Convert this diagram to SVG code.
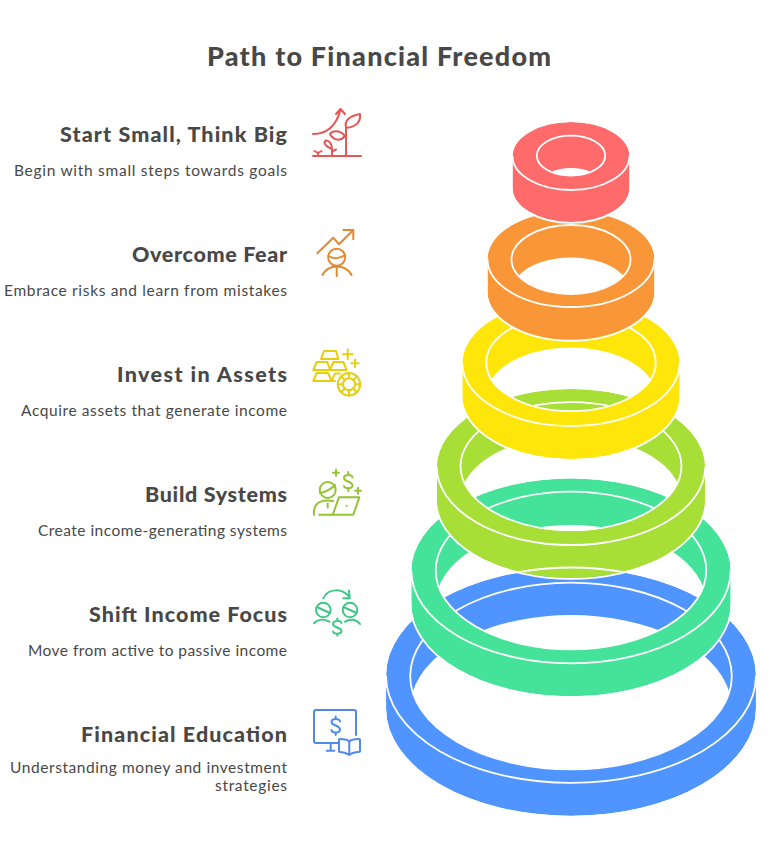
<svg xmlns="http://www.w3.org/2000/svg" width="782" height="867" viewBox="0 0 782 867">
<style>
text{font-family:"Lato","Open Sans",sans-serif;fill:#484848}
.title{font-size:27px;font-weight:900}
.head{font-size:21.500px;font-weight:900}
.desc{font-size:15.500px}
.ring{fill-rule:evenodd}
.edge{fill:none;stroke:#fff;stroke-width:1.800}
.ic{fill:none;stroke-width:2;stroke-linecap:round;stroke-linejoin:round}
</style>
<rect width="782" height="867" fill="#fff"/>
<text class="title" x="207" y="66" textLength="344" lengthAdjust="spacing">Path to Financial Freedom</text>

<g id="financial-education">
<path class="ring" fill="#4F94FF" d="M386 675.500A185 107.400 0 0 1 756 675.500V708.500A185 107.400 0 0 1 386 708.500ZM412.700 692A160.800 93.300 0 0 1 729.300 692A160.800 93.300 0 0 1 412.700 692Z"/>
<path class="edge" d="M385.200 675.500A185.800 108.200 0 0 1 756.800 675.500V708.500A185.800 108.200 0 0 1 385.200 708.500Z"/>
<ellipse class="edge" cx="571" cy="676" rx="160.800" ry="93.300"/>
<path class="edge" d="M386 675.500A185 107.400 0 0 0 756 675.500"/>
<g class="ic" stroke="#4F8AE8">
<path d="M356 735V712a2 2 0 0 0-2-2H316a2 2 0 0 0-2 2V741a2 2 0 0 0 2 2H338M330.700 743.300V750.500M326.700 750.700H334.300"/>
<path d="M340 721.500C340 718 331.500 718 331.500 722C331.500 726 340 725 340 729.500C340 733.500 331.500 733.500 331.500 730M335.700 716.500V718.500M335.700 733V735"/>
<path d="M349.300 755C345 752 342 752 340 752Q339 752 339 751V740Q339 739 340 739C344 739 347 739 349.300 741.500C351.500 739 355 739 359 739Q360 739 360 740V751Q360 752 359 752C356 752 353 752 349.300 755ZM349.300 741.500V755"/>
</g>
<text class="head" x="81" y="742" textLength="206" lengthAdjust="spacing">Financial Education</text>
<text class="desc" x="10" y="773" textLength="277" lengthAdjust="spacing">Understanding money and investment</text>
<text class="desc" x="215" y="791" textLength="72" lengthAdjust="spacing">strategies</text>
</g>

<g id="shift-income-focus">
<path class="ring" fill="#45E39A" d="M411.300 570.800A159.700 92.500 0 0 1 730.700 570.800V603.800A159.700 92.500 0 0 1 411.300 603.800ZM438.700 587.300A135.300 78.800 0 0 1 703.300 587.300A135.300 78.800 0 0 1 438.700 587.300Z"/>
<path class="edge" d="M410.500 570.800A160.500 93.300 0 0 1 731.500 570.800V603.800A160.500 93.300 0 0 1 410.500 603.800Z"/>
<ellipse class="edge" cx="571" cy="570.500" rx="135.300" ry="78.800"/>
<path class="edge" d="M411.300 570.800A159.700 92.500 0 0 0 730.700 570.800"/>
<g class="ic" stroke="#3DC985">
<path d="M323.300 598.300C328 588 342 588 349 596.700M349 590.700L349.700 598.300L343.300 598.300"/>
<circle cx="323.300" cy="610" r="7.300"/><circle cx="350" cy="610" r="7.300"/>
<path d="M316.800 607L329.800 613M343.500 607L356.500 613M314 623.300C318 619 324 618.500 329.300 621.700M345 621.700C350 618.500 356 619 360 624"/>
<path d="M341.500 623C341.500 620 333 620 333 624C333 628 341.500 627 341.500 631C341.500 634.500 333 634.500 333 631.500M337.300 618.500V620.500M337.300 634V635.500"/>
</g>
<text class="head" x="89" y="622" textLength="198" lengthAdjust="spacing">Shift Income Focus</text>
<text class="desc" x="28" y="656" textLength="259" lengthAdjust="spacing">Move from active to passive income</text>
</g>

<g id="build-systems">
<path class="ring" fill="#A8DF36" d="M436.800 467A134.200 78 0 0 1 705.200 467V500A134.200 78 0 0 1 436.800 500ZM464.200 483.500A110.500 64 0 0 1 677.800 483.500A110.500 64 0 0 1 464.200 483.500Z"/>
<path class="edge" d="M436 467A135 78.800 0 0 1 706 467V500A135 78.800 0 0 1 436 500Z"/>
<ellipse class="edge" cx="571" cy="466.200" rx="110.500" ry="64"/>
<path class="edge" d="M436.800 467A134.200 78 0 0 0 705.200 467"/>
<g class="ic" stroke="#94C434">
<circle cx="327.700" cy="490" r="8"/>
<path d="M320 493C326 492 332 488 335 485M314 515C313 505 318 500.500 327.700 500.500C329 500.500 331 500.700 333 501M327.700 503.500V507.500"/>
<path d="M319.300 514.700H353.300L359.300 497.300H339L332.700 514.700"/>
<path d="M346.700 505.700h.01"/>
<path d="M352.500 477.500C352.500 474 344 474 344 478C344 482 352.500 481 352.500 485.500C352.500 489 344 489 344 486M348.300 472V474M348.300 489V491"/>
<path d="M336 469.700V475.700M333 472.700H339M358 487.700V493.700M355 490.700H361"/>
</g>
<text class="head" x="145" y="502" textLength="142" lengthAdjust="spacing">Build Systems</text>
<text class="desc" x="38" y="536" textLength="249" lengthAdjust="spacing">Create income-generating systems</text>
</g>

<g id="invest-in-assets">
<path class="ring" fill="#FFE60A" d="M462.300 363A108.700 63 0 0 1 679.700 363V396A108.700 63 0 0 1 462.300 396ZM491.400 379.500A84.700 48.500 0 0 1 650.600 379.500A84.700 48.500 0 0 1 491.400 379.500Z"/>
<path class="edge" d="M461.500 363A109.500 63.800 0 0 1 680.500 363V396A109.500 63.800 0 0 1 461.500 396Z"/>
<ellipse class="edge" cx="571" cy="362.700" rx="84.700" ry="48.500"/>
<path class="edge" d="M462.300 363A108.700 63 0 0 0 679.700 363"/>
<g class="ic" stroke="#E5CF10">
<path d="M321 359L324 351H336L338.300 359ZM313.300 370L316.700 362H327.300L330 370ZM330 370L333.300 362H343.300L346.700 370ZM335 381H313.300L316.700 373H328L331.700 381M331.700 381L335 373.500H340"/>
<circle cx="349" cy="384.300" r="11.200"/><circle cx="349" cy="384.300" r="6"/>
<path d="M349 373.100V378.300M349 390.300V395.500M337.800 384.300H343M355 384.300H360.200M341 376.300L344.800 380.100M353.200 388.500L357 392.300M357 376.300L353.200 380.100M344.800 388.500L341 392.300"/>
<path d="M347.700 349.500V359M343 354.300H352.500M355 359.500V367M351.300 363.300H358.700"/>
</g>
<text class="head" x="117" y="382" textLength="170" lengthAdjust="spacing">Invest in Assets</text>
<text class="desc" x="21" y="416" textLength="266" lengthAdjust="spacing">Acquire assets that generate income</text>
</g>

<g id="overcome-fear">
<path class="ring" fill="#F99638" d="M487.500 259A83.500 48 0 0 1 654.500 259V292A83.500 48 0 0 1 487.500 292ZM518.700 275.500A59.500 34.500 0 0 1 623.300 275.500A59.500 34.500 0 0 1 518.700 275.500Z"/>
<path class="edge" d="M486.700 259A84.300 48.800 0 0 1 655.300 259V292A84.300 48.800 0 0 1 486.700 292Z"/>
<ellipse class="edge" cx="571" cy="259.500" rx="59.500" ry="34.500"/>
<path class="edge" d="M487.500 259A83.500 48 0 0 0 654.500 259"/>
<g class="ic" stroke="#E08A33">
<path d="M317.300 253.300L333.300 237.700L339 244.300L353.300 230M343.300 230H353.300V239.300"/>
<circle cx="336.700" cy="257.300" r="8.500"/>
<path d="M328.500 256C333 259 340 259 345 255M322.500 275C326 268.500 331 266.500 336.700 266.500C342.500 266.500 348 268.500 351.500 275M336.700 266.500V276"/>
</g>
<text class="head" x="132" y="262" textLength="155" lengthAdjust="spacing">Overcome Fear</text>
<text class="desc" x="4" y="296" textLength="283" lengthAdjust="spacing">Embrace risks and learn from mistakes</text>
</g>

<g id="start-small">
<path class="ring" fill="#FF6B6B" d="M512.500 156A58.500 34 0 0 1 629.500 156V188A58.500 34 0 0 1 512.500 188ZM550.500 172A34.200 20 0 0 1 591.500 172A34.200 20 0 0 1 550.500 172Z"/>
<path class="edge" d="M511.700 156A59.300 34.800 0 0 1 630.300 156V188A59.300 34.800 0 0 1 511.700 188Z"/>
<ellipse class="edge" cx="571" cy="155.700" rx="34.200" ry="20"/>
<path class="edge" d="M512.500 156A58.500 34 0 0 0 629.500 156"/>
<g class="ic" stroke="#E55757">
<path d="M313 156H361"/>
<path d="M346 156V127M346 128C344 120 350 116 360 114C361 122 356 127 346 128Z"/>
<path d="M313 134C326 134 336 126 340.500 110M336 114L340.500 109L345 114"/>
<path d="M345 136C340 130 333 130 330 134C333 140 340 142 345 136ZM332 156V149M332 149C326 147 323 143 325.500 140.500C329 140 332 144 332 149ZM332 151.500L336 149.500M318 156V153M314.500 151L318 153L321.500 151"/>
</g>
<text class="head" x="60" y="142" textLength="227" lengthAdjust="spacing">Start Small, Think Big</text>
<text class="desc" x="14" y="176" textLength="273" lengthAdjust="spacing">Begin with small steps towards goals</text>
</g>

<path class="edge" d="M517 572.300A185 107.400 0 0 1 625 572.300" stroke-width="1.500"/>
</svg>
